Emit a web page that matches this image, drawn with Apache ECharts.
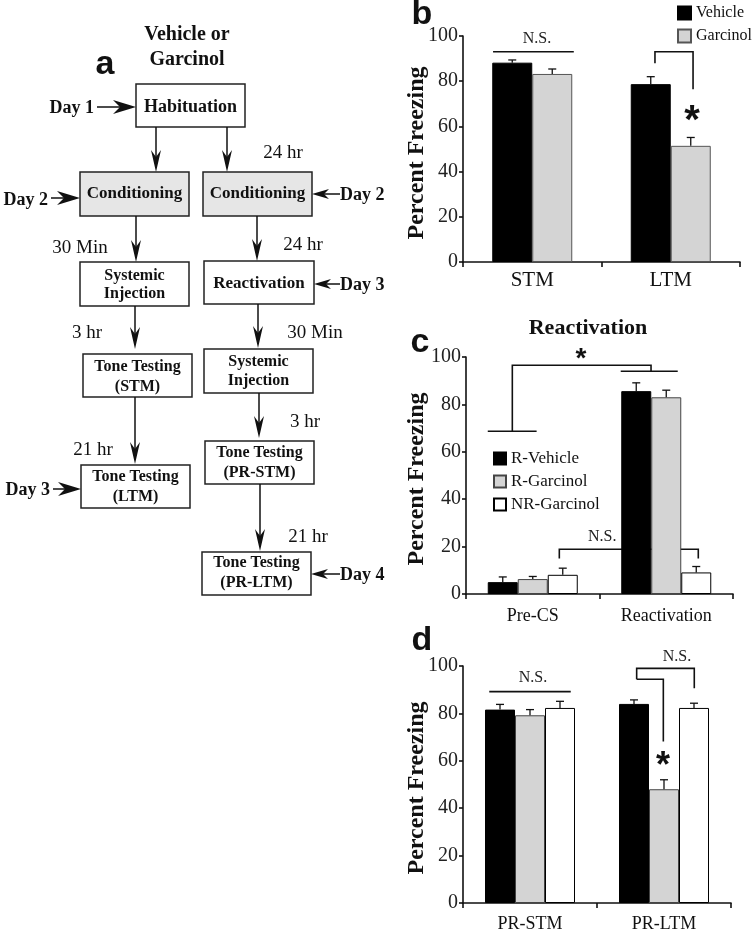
<!DOCTYPE html>
<html><head><meta charset="utf-8">
<script src="https://cdn.jsdelivr.net/npm/echarts@6/dist/echarts.min.js"></script>
<style>html,body{margin:0;padding:0;background:#fff}#c{width:755px;height:934px}</style>
</head><body><div id="c"></div><script>
// ---------- data ----------
const yTicks = [0, 20, 40, 60, 80, 100];

const categoriesB = ['STM', 'LTM'];
const vehicleB = [88.2, 78.7];
const vehicleErrB = [1.2, 3.3];
const garcinolB = [83.2, 51.4];
const garcinolErrB = [2.2, 3.7];

const categoriesC = ['Pre-CS', 'Reactivation'];
const rVehicleC = [5.0, 85.6];
const rVehicleErrC = [2.2, 3.5];
const rGarcinolC = [6.3, 83.0];
const rGarcinolErrC = [1.1, 3.0];
const nrGarcinolC = [8.1, 9.1];
const nrGarcinolErrC = [2.8, 2.5];

const categoriesD = ['PR-STM', 'PR-LTM'];
const rVehicleD = [81.6, 84.0];
const rVehicleErrD = [2.2, 1.7];
const rGarcinolD = [79.2, 48.0];
const rGarcinolErrD = [2.4, 4.0];
const nrGarcinolD = [82.3, 82.3];
const nrGarcinolErrD = [2.8, 2.0];

// significance annotations: [category, offset in category bands, value]
const bracketsB = [
  [[0, -0.283, 93], [0, 0.30, 93]],
  [[1, -0.114, 87.9], [1, -0.114, 93], [1, 0.161, 93], [1, 0.161, 76.4]]
];
const labelsB = [
  { at: [0, 0.034, 98.6], text: 'N.S.' },
  { at: [1, 0.153, 66.4], text: '*', size: 40 }
];
const bracketsC = [
  [[0, -0.337, 68.7], [0, 0.029, 68.7]],
  [[0, -0.153, 68.7], [0, -0.153, 96.5], [1, -0.114, 96.5], [1, -0.114, 94.0]],
  [[1, -0.341, 94.0], [1, 0.086, 94.0]],
  [[0, 0.199, 15], [0, 0.199, 18.9], [1, 0.24, 18.9], [1, 0.24, 15]]
];
const labelsC = [
  { at: [1, -0.48, 24.1], text: 'N.S.' },
  { at: [0, 0.361, 102], text: '*', size: 28 }
];
const bracketsD = [
  [[0, -0.304, 89.2], [0, 0.304, 89.2]],
  [[1, -0.204, 94.4], [1, -0.204, 99], [1, 0.226, 99], [1, 0.226, 90.6]],
  [[1, -0.204, 94.4], [1, -0.005, 94.4], [1, -0.005, 68.1]]
];
const labelsD = [
  { at: [0, 0.022, 94.9], text: 'N.S.' },
  { at: [1, 0.097, 103.7], text: 'N.S.' },
  { at: [1, -0.007, 61.2], text: '*', size: 36 }
];

// ---------- styling helpers ----------
const SERIF = '"Liberation Serif", "Times New Roman", serif';
const SANS = '"Liberation Sans", Arial, sans-serif';
const INK = '#111';
const GRAY = '#d4d4d4';

function xAx(gi, cats, fs, margin) {
  return {
    type: 'category', gridIndex: gi, data: cats,
    axisLine: { lineStyle: { color: INK, width: 1.6 } },
    axisTick: { show: true, length: 5, lineStyle: { color: INK, width: 1.6 } },
    axisLabel: { fontFamily: SERIF, fontSize: fs, color: INK, margin: margin }
  };
}
function yAx(gi) {
  return {
    type: 'value', gridIndex: gi,
    min: yTicks[0], max: yTicks[yTicks.length - 1], interval: yTicks[1] - yTicks[0],
    axisLine: { show: true, lineStyle: { color: INK, width: 1.6 } },
    axisTick: { show: true, length: 4, lineStyle: { color: INK, width: 1.6 } },
    splitLine: { show: false },
    axisLabel: { fontFamily: SERIF, fontSize: 20, color: '#222', margin: 5 }
  };
}
function bar(gi, name, data, color, border, w) {
  return {
    type: 'bar', name: name, xAxisIndex: gi, yAxisIndex: gi, data: data,
    barWidth: w, barGap: '0%', z: 2, silent: true,
    itemStyle: { color: color, borderColor: border, borderWidth: 1 }
  };
}
function errSeries(gi, vals, errs, slot, n, w) {
  return {
    type: 'custom', name: 'err' + gi + '_' + slot, xAxisIndex: gi, yAxisIndex: gi, z: 3, silent: true,
    data: vals.map((v, i) => [i, v, errs[i]]),
    renderItem: function (params, api) {
      const base = api.coord([api.value(0), api.value(1)]);
      const top = api.coord([api.value(0), api.value(1) + api.value(2)]);
      const x = base[0] + (slot - (n - 1) / 2) * w;
      return {
        type: 'group', children: [
          { type: 'line', shape: { x1: x, y1: base[1], x2: x, y2: top[1] }, style: { stroke: INK, lineWidth: 1.3 } },
          { type: 'line', shape: { x1: x - 4, y1: top[1], x2: x + 4, y2: top[1] }, style: { stroke: INK, lineWidth: 1.3 } }
        ]
      };
    }
  };
}
function annotSeries(gi, brackets, labels) {
  return {
    type: 'custom', name: 'annot' + gi, xAxisIndex: gi, yAxisIndex: gi, z: 1, silent: true, clip: false,
    data: brackets.map(() => [0, 0]).concat(labels.map(() => [0, 0])),
    renderItem: function (params, api) {
      const band = api.size([1, 0])[0];
      const pt = p => { const c = api.coord([p[0], p[2]]); return [c[0] + p[1] * band, c[1]]; };
      const i = params.dataIndex;
      if (i < brackets.length) {
        return { type: 'polyline', shape: { points: brackets[i].map(pt) }, style: { stroke: INK, lineWidth: 1.6, fill: null } };
      }
      const L = labels[i - brackets.length];
      const c = pt(L.at);
      if (L.text === '*') {
        return { type: 'text', x: c[0], y: c[1] + L.size * 0.25,
          style: { text: '*', font: 'bold ' + L.size + 'px ' + SANS, fill: INK, align: 'center', verticalAlign: 'middle' } };
      }
      return { type: 'text', x: c[0], y: c[1],
        style: { text: L.text, font: '16px ' + SERIF, fill: '#222', align: 'center', verticalAlign: 'middle' } };
    }
  };
}

// ---------- flowchart (panel a) ----------
const G = [];
function txt(x, y, s, font, align, rot) {
  G.push({ type: 'text', x: x, y: y, rotation: rot || 0, silent: true,
    style: { text: s, font: font, fill: INK, align: align || 'center', verticalAlign: 'middle' } });
}
function box(x1, y1, x2, y2, fill) {
  G.push({ type: 'rect', shape: { x: x1, y: y1, width: x2 - x1, height: y2 - y1 },
    style: { fill: fill || '#fff', stroke: '#222', lineWidth: 1.5 } });
}
function vArrow(x, y1, y2) {
  G.push({ type: 'line', shape: { x1: x, y1: y1, x2: x, y2: y2 - 10 }, style: { stroke: INK, lineWidth: 1.5 } });
  G.push({ type: 'polygon', shape: { points: [[x, y2], [x - 5, y2 - 22], [x, y2 - 15], [x + 5, y2 - 22]] }, style: { fill: INK } });
}
function hArrowR(x1, x2, y) {
  G.push({ type: 'line', shape: { x1: x1, y1: y, x2: x2 - 10, y2: y }, style: { stroke: INK, lineWidth: 1.5 } });
  G.push({ type: 'polygon', shape: { points: [[x2, y], [x2 - 23, y - 7], [x2 - 16, y], [x2 - 23, y + 7]] }, style: { fill: INK } });
}
function hArrowL(x1, x2, y) {
  G.push({ type: 'line', shape: { x1: x1 + 10, y1: y, x2: x2, y2: y }, style: { stroke: INK, lineWidth: 1.5 } });
  G.push({ type: 'polygon', shape: { points: [[x1, y], [x1 + 17, y - 5], [x1 + 12, y], [x1 + 17, y + 5]] }, style: { fill: INK } });
}
const BOLD = s => 'bold ' + s + 'px ' + SERIF;
const REG = s => s + 'px ' + SERIF;

txt(187, 35, 'Vehicle or', BOLD(20));
txt(187, 60, 'Garcinol', BOLD(20));
box(136, 84, 245, 127);
txt(190.5, 107, 'Habituation', BOLD(18));
txt(94, 108, 'Day 1', BOLD(18), 'right');
hArrowR(97, 136, 107);
vArrow(156, 127, 172);
vArrow(227, 127, 172);
txt(283, 153, '24 hr', REG(19));
box(80, 172, 189, 216, '#e6e6e6');
txt(134.5, 194, 'Conditioning', BOLD(17));
box(203, 172, 312, 216, '#e6e6e6');
txt(257.5, 194, 'Conditioning', BOLD(17));
txt(48, 200, 'Day 2', BOLD(18), 'right');
hArrowR(51, 80, 198);
hArrowL(312, 340, 194);
txt(340, 195, 'Day 2', BOLD(18), 'left');
vArrow(136, 216, 262);
txt(80, 248, '30 Min', REG(19));
box(80, 262, 189, 306);
txt(134.5, 276, 'Systemic', BOLD(16));
txt(134.5, 294, 'Injection', BOLD(16));
vArrow(257, 216, 261);
txt(303, 245, '24 hr', REG(19));
box(204, 261, 314, 304);
txt(259, 284, 'Reactivation', BOLD(17));
hArrowL(314, 340, 284);
txt(340, 285, 'Day 3', BOLD(18), 'left');
vArrow(135, 306, 349);
txt(87, 333, '3 hr', REG(19));
box(83, 354, 192, 397);
txt(137.5, 367, 'Tone Testing', BOLD(16));
txt(137.5, 387, '(STM)', BOLD(16));
vArrow(135, 397, 464);
txt(93, 450, '21 hr', REG(19));
box(81, 465, 190, 508);
txt(135.5, 477, 'Tone Testing', BOLD(16));
txt(135.5, 497, '(LTM)', BOLD(16));
txt(50, 490, 'Day 3', BOLD(18), 'right');
hArrowR(53, 81, 489);
vArrow(258, 304, 348);
txt(315, 333, '30 Min', REG(19));
box(204, 349, 313, 393);
txt(258.5, 362, 'Systemic', BOLD(16));
txt(258.5, 381, 'Injection', BOLD(16));
vArrow(259, 393, 438);
txt(305, 422, '3 hr', REG(19));
box(205, 441, 314, 484);
txt(259.5, 453, 'Tone Testing', BOLD(16));
txt(259.5, 473, '(PR-STM)', BOLD(16));
vArrow(260, 484, 551);
txt(308, 537, '21 hr', REG(19));
box(202, 552, 311, 595);
txt(256.5, 563, 'Tone Testing', BOLD(16));
txt(256.5, 583, '(PR-LTM)', BOLD(16));
hArrowL(311, 340, 574);
txt(340, 575, 'Day 4', BOLD(18), 'left');

// panel letters, titles, axis names
const LET = 'bold 34px ' + SANS;
txt(105, 65, 'a', LET);
txt(422, 15, 'b', LET);
txt(420, 343, 'c', LET);
txt(422, 641, 'd', LET);
txt(588, 328, 'Reactivation', BOLD(22));
txt(417, 153, 'Percent Freezing', BOLD(24), 'center', Math.PI / 2);
txt(417, 479, 'Percent Freezing', BOLD(24), 'center', Math.PI / 2);
txt(417, 788, 'Percent Freezing', BOLD(24), 'center', Math.PI / 2);

// ---------- chart ----------
const chart = echarts.init(document.getElementById('c'), null, { renderer: 'canvas' });
chart.setOption({
  animation: false,
  backgroundColor: '#fff',
  grid: [
    { left: 463, top: 36, width: 277, height: 226, outerBoundsMode: 'none' },
    { left: 466, top: 357, width: 267, height: 237, outerBoundsMode: 'none' },
    { left: 463, top: 666, width: 268, height: 237, outerBoundsMode: 'none' }
  ],
  xAxis: [xAx(0, categoriesB, 21, 8), xAx(1, categoriesC, 18, 13), xAx(2, categoriesD, 18, 12)],
  yAxis: [yAx(0), yAx(1), yAx(2)],
  legend: [
    { left: 677, top: 5, padding: 0, orient: 'vertical', icon: 'rect', itemWidth: 13, itemHeight: 13, itemGap: 7,
      data: ['Vehicle', 'Garcinol'], selectedMode: false,
      textStyle: { fontFamily: SERIF, fontSize: 16, color: INK } },
    { left: 493, top: 450, padding: 0, orient: 'vertical', icon: 'rect', itemWidth: 12, itemHeight: 12, itemGap: 6,
      data: ['R-Vehicle', 'R-Garcinol', 'NR-Garcinol'], selectedMode: false,
      textStyle: { fontFamily: SERIF, fontSize: 17, color: INK } }
  ],
  graphic: { elements: G },
  series: [
    annotSeries(0, bracketsB, labelsB),
    bar(0, 'Vehicle', vehicleB, '#000', '#000', 40),
    bar(0, 'Garcinol', garcinolB, GRAY, '#555', 40),
    errSeries(0, vehicleB, vehicleErrB, 0, 2, 40),
    errSeries(0, garcinolB, garcinolErrB, 1, 2, 40),

    annotSeries(1, bracketsC, labelsC),
    bar(1, 'R-Vehicle', rVehicleC, '#000', '#000', 30),
    bar(1, 'R-Garcinol', rGarcinolC, GRAY, '#444', 30),
    bar(1, 'NR-Garcinol', nrGarcinolC, '#fff', '#000', 30),
    errSeries(1, rVehicleC, rVehicleErrC, 0, 3, 30),
    errSeries(1, rGarcinolC, rGarcinolErrC, 1, 3, 30),
    errSeries(1, nrGarcinolC, nrGarcinolErrC, 2, 3, 30),

    annotSeries(2, bracketsD, labelsD),
    bar(2, 'R-Vehicle', rVehicleD, '#000', '#000', 30),
    bar(2, 'R-Garcinol', rGarcinolD, GRAY, '#444', 30),
    bar(2, 'NR-Garcinol', nrGarcinolD, '#fff', '#000', 30),
    errSeries(2, rVehicleD, rVehicleErrD, 0, 3, 30),
    errSeries(2, rGarcinolD, rGarcinolErrD, 1, 3, 30),
    errSeries(2, nrGarcinolD, nrGarcinolErrD, 2, 3, 30)
  ]
});
</script></body></html>
